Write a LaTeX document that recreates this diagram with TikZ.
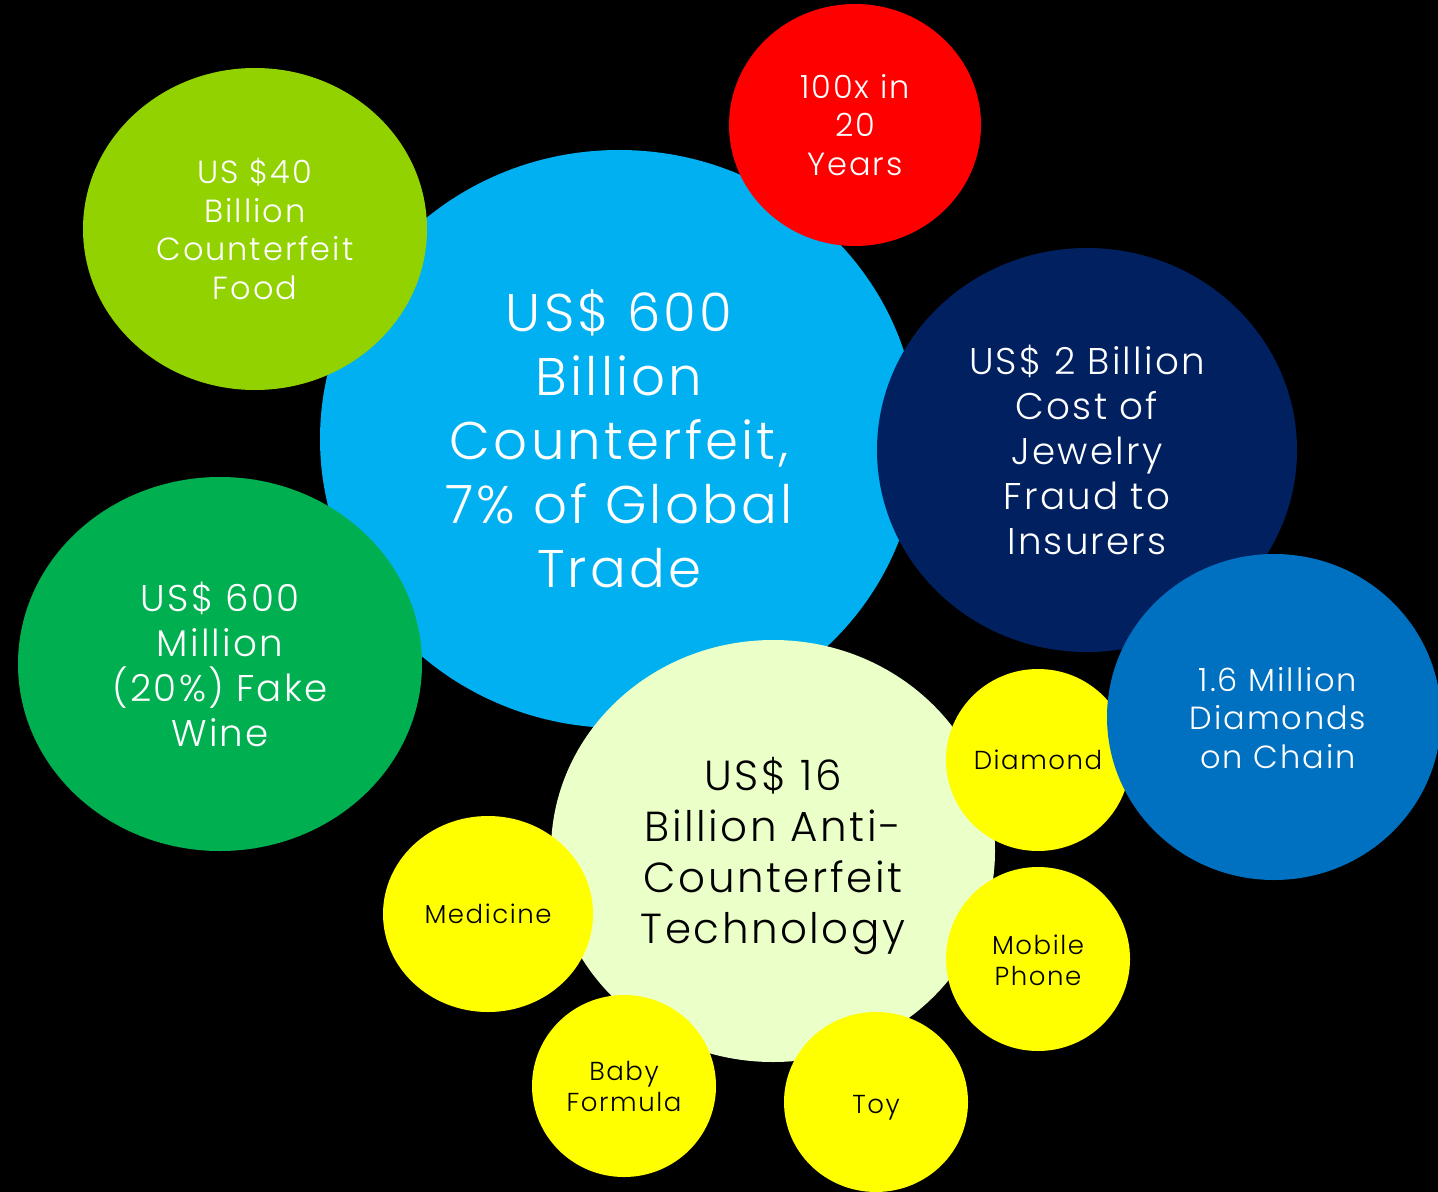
\documentclass[tikz,border=0pt]{standalone}
\usepackage{fontspec}
\IfFontExistsTF{Poppins Light}
  {\setmainfont{Poppins Light}[LetterSpace=6]}
  {\setmainfont{Poppins}[LetterSpace=6]}
\usetikzlibrary{shapes.geometric}
\definecolor{tradeblue}{HTML}{00B0F0}
\definecolor{foodgreen}{HTML}{92D200}
\definecolor{wine}{HTML}{00B050}
\definecolor{jewelry}{HTML}{002060}
\definecolor{chainblue}{HTML}{0070C0}
\definecolor{techpale}{HTML}{EBFFC8}
\definecolor{itemyellow}{HTML}{FFFF00}

\begin{document}
\begin{tikzpicture}[x=0.5pt,y=-0.5pt,
  bubble/.style={ellipse,inner sep=0pt,outer sep=0pt},
  caption/.style={align=center,inner sep=0pt,text=white},
  big/.style={font=\fontsize{26.5}{32}\selectfont},
  mid/.style={font=\fontsize{18.6}{22.5}\selectfont},
  small/.style={font=\fontsize{16}{19.25}\selectfont},
  tech/.style={font=\fontsize{21}{25.5}\selectfont},
  tiny/.style={font=\fontsize{13}{15.5}\selectfont}]
  \fill[black] (0,0) rectangle (1438,1192);
  \useasboundingbox (0,0) rectangle (1438,1192);
  % bubbles, back to front
  \node[bubble,fill=tradeblue,minimum width=299pt,minimum height=289pt] (trade) at (619,439) {};
  \node[bubble,fill=foodgreen,minimum width=172pt,minimum height=161pt] (food) at (255,229) {};
  \node[bubble,fill=red,minimum width=126pt,minimum height=121pt] (growth) at (855,125) {};
  \node[bubble,fill=jewelry,minimum width=210pt,minimum height=202pt] (fraud) at (1087,450) {};
  \node[bubble,fill=wine,minimum width=202pt,minimum height=187pt] (wine) at (220,664) {};
  \node[bubble,fill=techpale,minimum width=222pt,minimum height=211pt] (tech) at (773,851) {};
  \node[bubble,fill=itemyellow,minimum width=92pt,minimum height=91pt] (diamond) at (1038,760) {};
  \node[bubble,fill=itemyellow,minimum width=92pt,minimum height=92pt] (phone) at (1038,959) {};
  \node[bubble,fill=itemyellow,minimum width=92pt,minimum height=90pt] (toy) at (876,1102) {};
  \node[bubble,fill=itemyellow,minimum width=92pt,minimum height=91pt] (formula) at (624,1086) {};
  \node[bubble,fill=itemyellow,minimum width=105pt,minimum height=98pt] (medicine) at (488,914) {};
  \node[bubble,fill=chainblue,minimum width=167pt,minimum height=163pt] (chain) at (1274,717) {};
  % texts
  \node[caption,big] (trade text) at (trade) {US\$ 600\\Billion\\Counterfeit,\\7\% of Global\\Trade};
  \node[caption,small] (food text) at (food) {US \$40\\Billion\\Counterfeit\\Food};
  \node[caption,small] (growth text) at (growth) {100x in\\20\\Years};
  \node[caption,mid] (fraud text) at (fraud) {US\$ 2 Billion\\Cost of\\Jewelry\\Fraud to\\Insurers};
  \node[caption,mid] (wine text) at (wine) {US\$ 600\\Million\\(20\%) Fake\\Wine};
  \node[caption,small] (chain text) at (1278,718) {1.6 Million\\Diamonds\\on Chain};
  \node[caption,tech,text=black] (tech text) at (773,856) {US\$ 16\\Billion Anti-\\Counterfeit\\Technology};
  \node[caption,tiny,text=black] (diamond text) at (diamond) {Diamond};
  \node[caption,tiny,text=black] (phone text) at (1038,960) {Mobile\\Phone};
  \node[caption,tiny,text=black] (toy text) at (876,1108) {Toy};
  \node[caption,tiny,text=black] (formula text) at (formula) {Baby\\Formula};
  \node[caption,tiny,text=black] (medicine text) at (medicine) {Medicine};
\end{tikzpicture}
\end{document}
